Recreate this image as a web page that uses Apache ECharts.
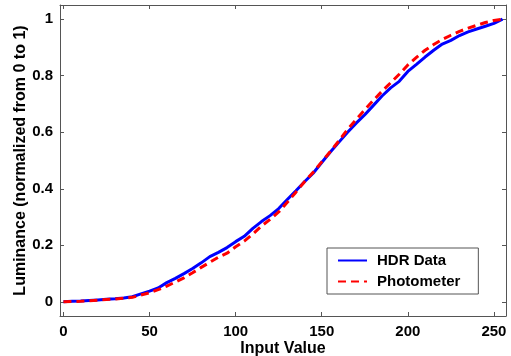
<!DOCTYPE html>
<html>
<head>
<meta charset="utf-8">
<script src="https://cdn.jsdelivr.net/npm/echarts@6/dist/echarts.min.js"></script>
<style>html,body{margin:0;padding:0;background:#fff;}#c{width:511px;height:356px;}</style>
</head>
<body>
<div id="c"></div>
<script>
const inputValues = [0,5,10,15,20,25,30,35,40,45,50,55,60,65,70,75,80,85,90,95,100,105,110,115,120,125,130,135,140,145,150,155,160,165,170,175,180,185,190,195,200,205,210,215,220,225,230,235,240,245,250,255];
const hdrData = [0,0.002,0.003,0.005,0.007,0.009,0.011,0.014,0.018,0.028,0.038,0.049,0.068,0.083,0.100,0.118,0.138,0.160,0.175,0.192,0.213,0.232,0.260,0.284,0.305,0.330,0.362,0.393,0.425,0.455,0.493,0.530,0.565,0.600,0.632,0.662,0.695,0.728,0.757,0.780,0.815,0.840,0.866,0.890,0.912,0.925,0.942,0.955,0.965,0.975,0.985,1.0];
const photometer = [0,0.001,0.002,0.004,0.006,0.008,0.010,0.013,0.016,0.024,0.032,0.043,0.056,0.070,0.085,0.103,0.122,0.140,0.158,0.172,0.195,0.215,0.240,0.268,0.292,0.318,0.352,0.388,0.425,0.458,0.495,0.532,0.570,0.610,0.645,0.680,0.713,0.745,0.775,0.805,0.838,0.865,0.890,0.910,0.928,0.943,0.957,0.968,0.978,0.988,0.995,1.0];
const xTicks = [0,50,100,150,200,250];
const yTicks = [0,0.2,0.4,0.6,0.8,1];
const seriesNames = ['HDR Data','Photometer'];

const toPairs = (xs, ys) => xs.map((x, i) => [x, ys[i]]);
const axisCol = '#555';
const font = 'Arial, "Liberation Sans", sans-serif';
const chart = echarts.init(document.getElementById('c'));
const xBase = {
  type: 'value', min: -2, max: 257,
  axisLine: {show: true, onZero: false, lineStyle: {color: axisCol, width: 1}},
  splitLine: {show: false},
  axisTick: {show: true, inside: true, length: 4, customValues: xTicks, lineStyle: {color: axisCol}},
};
const yBase = {
  type: 'value', min: -0.05, max: 1.05,
  axisLine: {show: true, onZero: false, lineStyle: {color: axisCol, width: 1}},
  splitLine: {show: false},
  axisTick: {show: true, inside: true, length: 4, customValues: yTicks, lineStyle: {color: axisCol}},
};
chart.setOption({
  animation: false,
  backgroundColor: '#fff',
  grid: {left: 60, right: 5, top: 5, bottom: 40, containLabel: false, outerBoundsMode: 'none'},
  xAxis: [
    Object.assign({}, xBase, {
      position: 'bottom',
      name: 'Input Value', nameLocation: 'middle', nameGap: 25, nameMoveOverlap: false,
      nameTextStyle: {color: '#000', fontFamily: font, fontWeight: 'bold', fontSize: 16},
      axisLabel: {show: true, customValues: xTicks, margin: 8, color: '#000', fontFamily: font, fontWeight: 'bold', fontSize: 15}
    }),
    Object.assign({}, xBase, {position: 'top', axisLabel: {show: false}})
  ],
  yAxis: [
    Object.assign({}, yBase, {
      position: 'left',
      name: 'Luminance (normalized from 0 to 1)', nameLocation: 'middle', nameGap: 31, nameMoveOverlap: false,
      nameTextStyle: {color: '#000', fontFamily: font, fontWeight: 'bold', fontSize: 16},
      axisLabel: {show: true, customValues: yTicks, margin: 7, color: '#000', fontFamily: font, fontWeight: 'bold', fontSize: 15,
        formatter: v => String(Math.round(v * 10) / 10)}
    }),
    Object.assign({}, yBase, {position: 'right', axisLabel: {show: false}})
  ],
  legend: {
    show: true, orient: 'vertical', left: 327, top: 248,
    backgroundColor: '#fff', borderColor: '#555', borderWidth: 1,
    padding: [5, 18, 5, 10], itemWidth: 29, itemHeight: 14, itemGap: 6,
    itemStyle: {opacity: 0},
    textStyle: {color: '#000', fontFamily: font, fontSize: 15, fontWeight: 'bold', padding: [0, 0, 0, 5]},
    data: seriesNames
  },
  series: [
    {name: seriesNames[0], type: 'line', data: toPairs(inputValues, hdrData), showSymbol: false, symbol: 'none',
     lineStyle: {color: '#0000ff', width: 3}, itemStyle: {color: '#0000ff'}, z: 2},
    {name: seriesNames[1], type: 'line', data: toPairs(inputValues, photometer), showSymbol: false, symbol: 'none',
     lineStyle: {color: '#ff0000', width: 3, type: [8, 5]}, itemStyle: {color: '#ff0000'}, z: 3}
  ]
});
</script>
</body>
</html>
